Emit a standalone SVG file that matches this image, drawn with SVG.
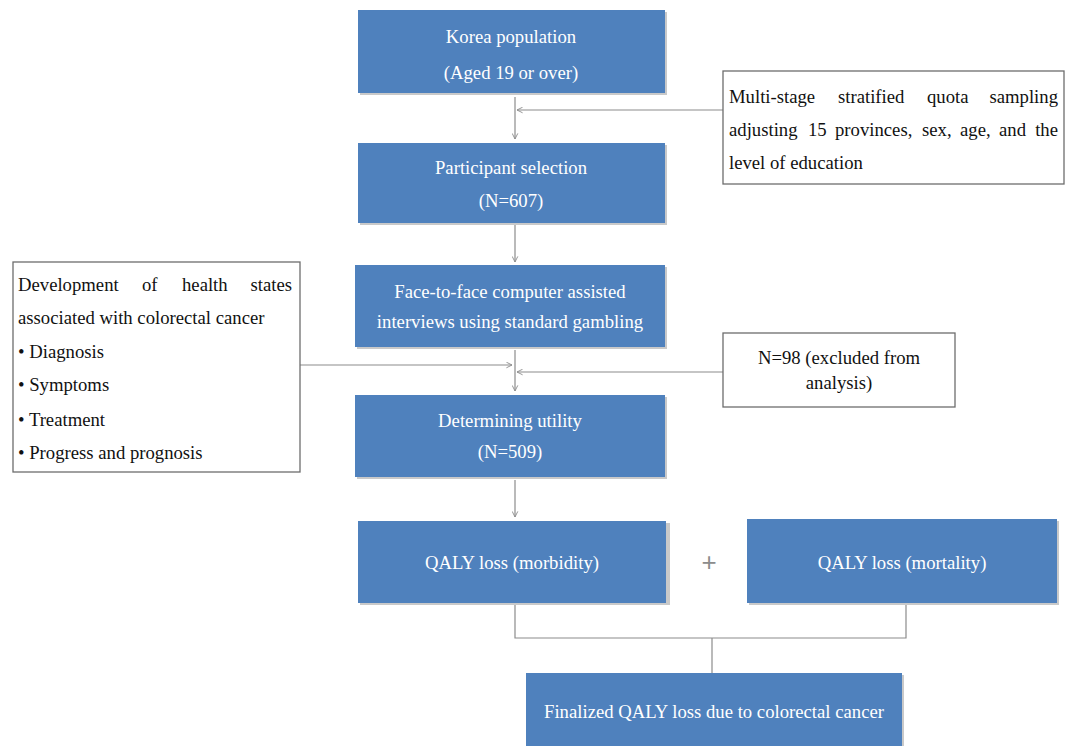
<svg xmlns="http://www.w3.org/2000/svg" width="1075" height="746" viewBox="0 0 1075 746">
<style>
.box{fill:#4f81bd;}
.sh{fill:#c9c9c9;}
.wb{fill:#ffffff;stroke:#6d6d6d;stroke-width:1.3;}
.wt{font-family:"Liberation Serif","Times New Roman",serif;font-size:18.7px;fill:#ffffff;text-anchor:middle;}
.bt{font-family:"Liberation Serif","Times New Roman",serif;font-size:18.7px;fill:#111111;}
.ln{fill:none;stroke:#8c8c8c;stroke-width:1.2;}
</style>
<defs>
<marker id="ah" viewBox="0 0 10 10" refX="9" refY="5" markerWidth="7" markerHeight="7" orient="auto" markerUnits="userSpaceOnUse">
<path d="M1,1 L9,5 L1,9" fill="none" stroke="#8c8c8c" stroke-width="1.3"/>
</marker>
</defs>
<rect width="1075" height="746" fill="#ffffff"/>
<g id="connectors">
<line class="ln" x1="515" y1="97" x2="515" y2="139" marker-end="url(#ah)"/>
<line class="ln" x1="723" y1="110" x2="517" y2="110" marker-end="url(#ah)"/>
<line class="ln" x1="515" y1="225" x2="515" y2="262" marker-end="url(#ah)"/>
<line class="ln" x1="515" y1="350" x2="515" y2="391" marker-end="url(#ah)"/>
<line class="ln" x1="300" y1="365" x2="512" y2="365" marker-end="url(#ah)"/>
<line class="ln" x1="723" y1="372" x2="517" y2="372" marker-end="url(#ah)"/>
<line class="ln" x1="515" y1="480" x2="515" y2="517" marker-end="url(#ah)"/>
<polyline class="ln" points="515,604 515,638 906,638 906,604"/>
<line class="ln" x1="712" y1="638" x2="712" y2="673"/>
</g>
<g id="n1">
<rect class="sh" x="360" y="12" width="307" height="83"/>
<rect class="box" x="358" y="10" width="307" height="83"/>
<text class="wt" x="511" y="43">Korea population</text>
<text class="wt" x="511" y="79">(Aged 19 or over)</text>
</g>
<g id="n2">
<rect class="sh" x="360" y="145" width="307" height="80"/>
<rect class="box" x="358" y="143" width="307" height="80"/>
<text class="wt" x="511" y="174">Participant selection</text>
<text class="wt" x="511" y="207">(N=607)</text>
</g>
<g id="n3">
<rect class="sh" x="357" y="267" width="310" height="82"/>
<rect class="box" x="355" y="265" width="310" height="82"/>
<text class="wt" x="510" y="298">Face-to-face computer assisted</text>
<text class="wt" x="510" y="328">interviews using standard gambling</text>
</g>
<g id="n4">
<rect class="sh" x="357" y="397" width="310" height="82"/>
<rect class="box" x="355" y="395" width="310" height="82"/>
<text class="wt" x="510" y="427">Determining utility</text>
<text class="wt" x="510" y="458">(N=509)</text>
</g>
<g id="n5">
<rect class="sh" x="360" y="523" width="310" height="82"/>
<rect class="box" x="358" y="521" width="308" height="82"/>
<text class="wt" x="512" y="569">QALY loss (morbidity)</text>
</g>
<g id="plus">
<text x="709" y="571" style="font-family:'Liberation Sans',Arial,sans-serif;font-size:26px;fill:#8c8c8c;text-anchor:middle;">+</text>
</g>
<g id="n6">
<rect class="sh" x="749" y="521" width="310" height="84"/>
<rect class="box" x="747" y="519" width="310" height="84"/>
<text class="wt" x="902" y="569">QALY loss (mortality)</text>
</g>
<g id="n7">
<rect class="sh" x="528" y="675" width="376" height="73"/>
<rect class="box" x="526" y="673" width="376" height="75"/>
<text class="wt" x="714" y="718">Finalized QALY loss due to colorectal cancer</text>
</g>
<g id="n8">
<rect class="wb" x="723" y="71" width="341" height="113"/>
<text class="bt" y="103"><tspan x="729">Multi-stage</tspan><tspan x="838">stratified</tspan><tspan x="927">quota</tspan><tspan x="1058" text-anchor="end">sampling</tspan></text>
<text class="bt" y="136"><tspan x="729">adjusting</tspan><tspan x="808">15</tspan><tspan x="835">provinces,</tspan><tspan x="922">sex,</tspan><tspan x="960">age,</tspan><tspan x="999">and</tspan><tspan x="1058" text-anchor="end">the</tspan></text>
<text class="bt" x="729" y="169">level of education</text>
</g>
<g id="n9">
<rect class="wb" x="13" y="262" width="287" height="210"/>
<text class="bt" y="291"><tspan x="18">Development</tspan><tspan x="142">of</tspan><tspan x="182">health</tspan><tspan x="292" text-anchor="end">states</tspan></text>
<text class="bt" x="18" y="324">associated with colorectal cancer</text>
<text class="bt" x="18" y="358">• Diagnosis</text>
<text class="bt" x="18" y="391">• Symptoms</text>
<text class="bt" x="18" y="426">• Treatment</text>
<text class="bt" x="18" y="459">• Progress and prognosis</text>
</g>
<g id="n10">
<rect class="wb" x="723" y="333" width="232" height="74"/>
<text class="bt" x="839" y="364" text-anchor="middle">N=98 (excluded from</text>
<text class="bt" x="839" y="389" text-anchor="middle">analysis)</text>
</g>
</svg>
